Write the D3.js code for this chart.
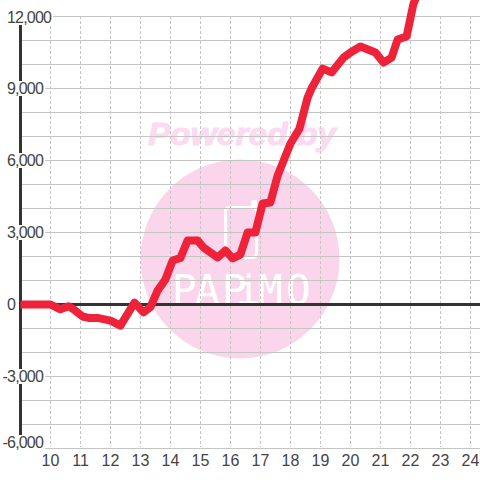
<!DOCTYPE html>
<html><head><meta charset="utf-8">
<script src="https://cdn.jsdelivr.net/npm/d3@7/dist/d3.min.js"></script>
<style>html,body{margin:0;padding:0;background:#fff}svg{display:block}text{font-family:"Liberation Sans",Arial,sans-serif}</style>
</head><body><svg id="c" width="480" height="480"></svg>
<script>
const hours=[9,10,10.33,10.6,10.77,11.07,11.27,11.57,12,12.33,12.8,13.1,13.33,13.57,13.83,14.07,14.33,14.57,14.9,15.1,15.57,15.83,16.07,16.33,16.57,16.83,17.07,17.33,17.57,18,18.3,18.57,18.7,19.07,19.37,19.77,20,20.33,20.83,21.1,21.37,21.57,21.87,22.1,22.23];
const values=[0,0,-200,-70,-200,-500,-560,-560,-670,-880,80,-330,-110,580,1040,1830,1940,2670,2670,2375,1960,2250,1920,2080,3000,3000,4210,4250,5370,6710,7330,8620,9000,9830,9670,10290,10500,10750,10500,10080,10290,11040,11170,12540,12900];
const xTicks=[10,11,12,13,14,15,16,17,18,19,20,21,22,23,24];
const yMajor=[12000,9000,6000,3000,0,-3000,-6000];
const yGrid=[12000,11000,10000,9000,8000,7000,6000,5000,4000,3000,2000,1000,-1000,-2000,-3000,-4000,-5000,-6000];

const svg=d3.select("#c");
const x=d3.scaleLinear().domain([9,25]).range([20.5,500.5]);
const y=d3.scaleLinear().domain([12000,-6000]).range([16.5,448.5]);

// watermark
const wm=svg.append("g");
wm.append("circle").attr("cx",240).attr("cy",259).attr("r",99.5).attr("fill","#fbd5ec");
wm.append("text").attr("x",148).attr("y",145).attr("font-size",31).attr("font-weight","bold").attr("font-style","italic")
  .attr("fill","#fcdaf0").attr("stroke","#fcdaf0").attr("stroke-width",1)
  .attr("textLength",188).attr("lengthAdjust","spacingAndGlyphs").text("Powered by");
wm.append("rect").attr("x",225.5).attr("y",207.5).attr("width",31).attr("height",50).attr("rx",4)
  .attr("fill","none").attr("stroke","#fff").attr("stroke-width",3);
wm.append("rect").attr("x",251).attr("y",200).attr("width",6).attr("height",9).attr("rx",2.5).attr("fill","#fff");
wm.append("text").attr("y",304).attr("font-size",41).style("font-family","'DejaVu Sans Mono'")
  .attr("x","172,195,222,236,258,286").attr("fill","#fff").text("PAPiMO");

// grid
svg.append("g").selectAll("line").data(yGrid).join("line")
  .attr("x1",20).attr("x2",480).attr("y1",d=>y(d)).attr("y2",d=>y(d))
  .attr("stroke","#c4c6c4").attr("stroke-width",1);
svg.append("g").selectAll("line").data(xTicks).join("line")
  .attr("x1",d=>x(d)).attr("x2",d=>x(d)).attr("y1",16).attr("y2",447)
  .attr("stroke","#c4c6c4").attr("stroke-width",1).attr("stroke-dasharray","3 2");

// axes
svg.append("line").attr("x1",20.5).attr("x2",20.5).attr("y1",16).attr("y2",436)
  .attr("stroke","#333").attr("stroke-width",3);
svg.append("line").attr("x1",20).attr("x2",480).attr("y1",y(0)).attr("y2",y(0))
  .attr("stroke","#333").attr("stroke-width",3);

// y labels with white plates
const fmt=v=>d3.format(",")(v).replace("\u2212","-");
const yl=svg.append("g").selectAll("g").data(yMajor).join("g");
yl.append("text").attr("x",d=>d<0?2.5:7).attr("y",d=>(d===-6000?y(d)-6:d===12000?y(d)+1:y(d))+5.5)
  .attr("font-size",16).attr("letter-spacing",-0.8).attr("fill","#444").text(d=>fmt(d));
yl.each(function(){
  const g=d3.select(this),t=g.select("text"),b=t.node().getBBox();
  g.insert("rect","text").attr("x",0).attr("y",b.y+1).attr("width",b.x+b.width+1).attr("height",b.height-2).attr("fill","#fff");
});

// x labels
svg.append("g").selectAll("text").data(xTicks).join("text")
  .attr("x",d=>x(d)).attr("y",466).attr("text-anchor","middle").attr("font-size",16).attr("fill","#444").text(d=>d);

// series
const line=d3.line().x((d,i)=>x(hours[i])).y(d=>y(d));
svg.append("path").datum(values).attr("d",line).attr("fill","none").attr("stroke","#ee2238")
  .attr("stroke-width",8).attr("stroke-linejoin","round").attr("stroke-linecap","butt");
</script></body></html>
